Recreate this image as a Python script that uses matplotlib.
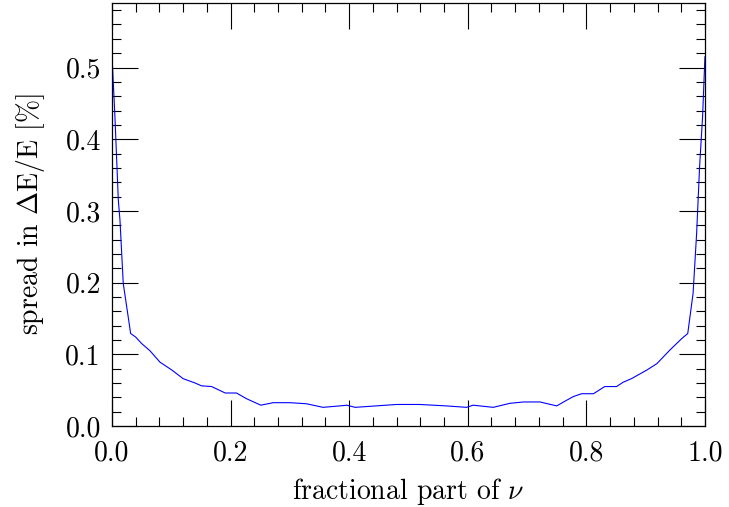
import matplotlib
matplotlib.use('Agg')
import matplotlib.pyplot as plt
from matplotlib.ticker import MultipleLocator

# fractional part of nu vs spread in dE/E [%]
frac_nu = [0.0, 0.005, 0.0107, 0.0135, 0.019, 0.0315, 0.040, 0.050, 0.064, 0.081,
           0.101, 0.120, 0.140, 0.151, 0.168, 0.191, 0.210, 0.227, 0.251, 0.272,
           0.300, 0.328, 0.356, 0.384, 0.396, 0.410, 0.480, 0.519, 0.564, 0.598,
           0.609, 0.643, 0.671, 0.694, 0.722, 0.750, 0.767, 0.778, 0.792, 0.812,
           0.831, 0.851, 0.862, 0.876, 0.902, 0.919, 0.941, 0.961, 0.971, 0.980,
           0.986, 0.991, 0.996, 1.0]
spread = [0.517, 0.431, 0.315, 0.287, 0.199, 0.129, 0.124, 0.115, 0.105, 0.089,
          0.078, 0.066, 0.060, 0.056, 0.055, 0.046, 0.046, 0.038, 0.029, 0.0325,
          0.0325, 0.031, 0.026, 0.028, 0.029, 0.026, 0.030, 0.030, 0.028, 0.026,
          0.029, 0.026, 0.0316, 0.0335, 0.0335, 0.028, 0.036, 0.041, 0.045, 0.045,
          0.055, 0.055, 0.061, 0.066, 0.078, 0.087, 0.106, 0.122, 0.129, 0.185,
          0.269, 0.362, 0.431, 0.515]

plt.rcParams['mathtext.fontset'] = 'cm'
plt.rcParams['font.family'] = ['cmr10', 'DejaVu Serif']

fig = plt.figure(figsize=(7.29, 5.07), dpi=100)
ax = fig.add_axes([0.1536, 0.1598, 0.8134, 0.8343])

ax.plot(frac_nu, spread, color='blue', linewidth=0.8)

ax.set_xlim(0, 1)
ax.set_ylim(0, 0.59)
ax.xaxis.set_major_locator(MultipleLocator(0.2))
ax.xaxis.set_minor_locator(MultipleLocator(0.04))
ax.yaxis.set_major_locator(MultipleLocator(0.1))
ax.yaxis.set_minor_locator(MultipleLocator(0.02))
ax.xaxis.set_major_formatter(plt.FormatStrFormatter('%.1f'))
ax.yaxis.set_major_formatter(plt.FormatStrFormatter('%.1f'))

ax.tick_params(which='both', direction='in', top=True, right=True, width=0.8)
ax.tick_params(which='major', length=18.5, labelsize=20)
ax.tick_params(axis='x', which='major', pad=10)
ax.tick_params(axis='y', which='major', pad=8)
ax.tick_params(which='minor', length=6.5)
for s in ax.spines.values():
    s.set_linewidth(0.9)

ax.set_xlabel(r'fractional part of $\nu$', fontsize=20, labelpad=7)
ax.set_ylabel(r'spread in $\Delta$E/E [$\%$]', fontsize=20, labelpad=13)

fig.savefig('out.png', dpi=100)
